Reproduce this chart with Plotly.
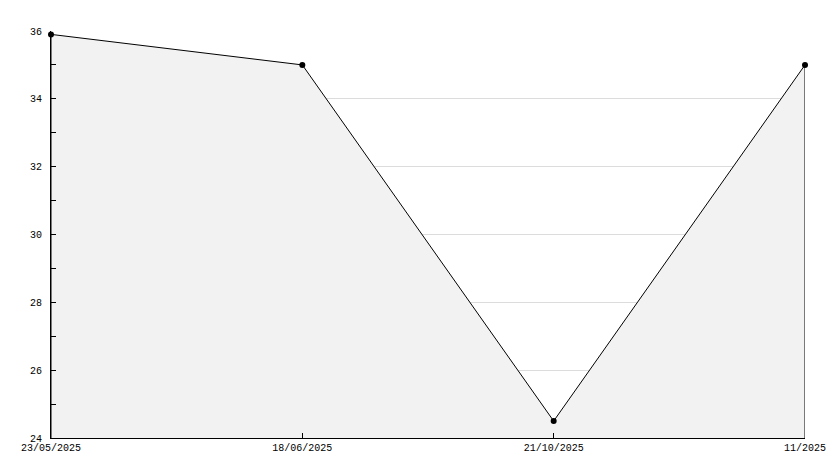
import plotly.graph_objects as go

labels = ["23/05/2025", "18/06/2025", "21/10/2025", "11/2025"]
values = [35.9, 35.0, 24.5, 35.0]
y_min, y_max = 24, 36

xs = list(range(len(labels)))

fig = go.Figure()
# filled area polygon with outline
fig.add_trace(go.Scatter(
    x=[xs[0]] + xs + [xs[-1]],
    y=[y_min] + values + [y_min],
    mode="lines", fill="toself", fillcolor="#f2f2f2",
    line=dict(color="black", width=1), hoverinfo="skip", showlegend=False,
))
fig.add_trace(go.Scatter(
    x=xs, y=values, mode="markers",
    marker=dict(color="black", size=6, symbol="circle"),
    cliponaxis=False, showlegend=False,
))

fig.update_layout(
    width=834, height=468,
    margin=dict(l=51, r=29, t=31, b=30, autoexpand=False),
    paper_bgcolor="white", plot_bgcolor="white",
    font=dict(family="Liberation Mono", size=10, color="black"),
    showlegend=False,
)
fig.update_xaxes(
    range=[0, len(labels) - 1], tickvals=xs, ticktext=labels,
    showgrid=False, zeroline=False, showline=True, linecolor="black", linewidth=1,
    ticks="inside", ticklen=5, tickcolor="black", automargin=False, tickangle=0,
)
fig.update_yaxes(
    range=[y_min, y_max], dtick=2, tick0=0,
    showgrid=True, gridcolor="#dcdcdc", gridwidth=1, zeroline=False,
    showline=True, linecolor="black", linewidth=1, automargin=False,
    ticks="inside", ticklen=5, tickcolor="black", ticklabelstandoff=6,
    minor=dict(dtick=1, ticks="inside", ticklen=5, tickcolor="black", showgrid=False),
)
fig.write_html(
    "out.html",
    config={"displayModeBar": False},
    post_script="document.body.style.margin='0';document.body.style.overflow='hidden';",
)
